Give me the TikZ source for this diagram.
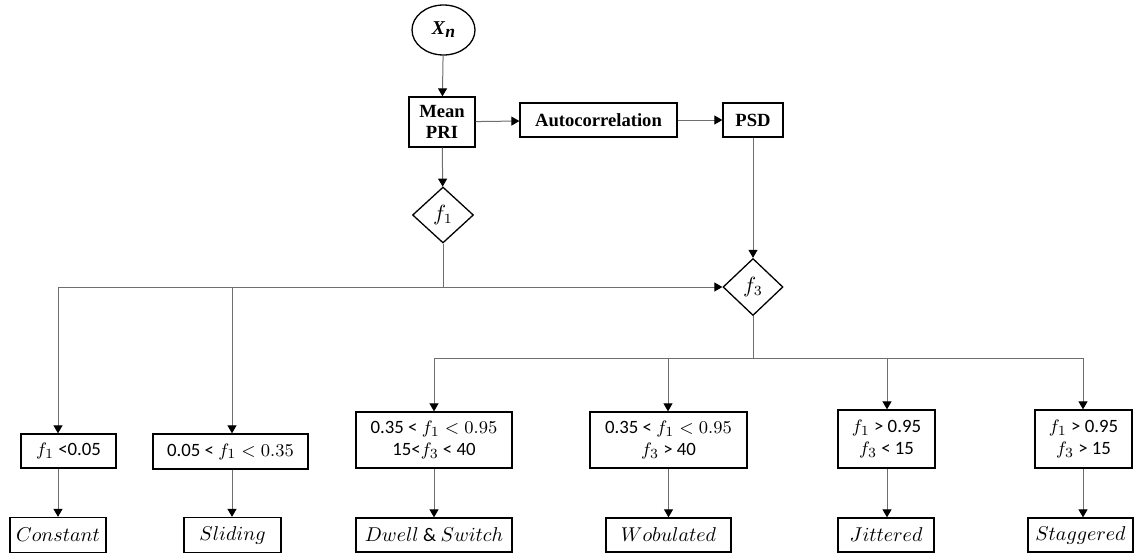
\documentclass[tikz,border=0pt]{standalone}
\usepackage{fontspec}
\setmainfont{Carlito}
\newfontfamily\tnr{Liberation Serif}
\usetikzlibrary{shapes.geometric,arrows.meta}
\definecolor{conn}{RGB}{110,110,110}
\tikzset{
  base/.style={draw=black, line width=0.65pt, inner sep=0pt, align=center,
    font=\fontsize{9.4}{11}\selectfont},
  topbox/.style={base, rectangle, font=\tnr\bfseries\fontsize{9.3}{10.5}\selectfont},
  condbox/.style={base, rectangle},
  resbox/.style={base, rectangle, font=\fontsize{9.6}{11}\selectfont},
  decision/.style={base, diamond, font=\fontsize{10.5}{12}\selectfont},
  conline/.style={draw=conn, line width=0.5pt},
  arr/.style={conline, -{Triangle[width=4.5pt,length=4pt,color=black]}}
}
\begin{document}
\begin{tikzpicture}[x=0.5pt,y=-0.5pt]
\useasboundingbox (0,0) rectangle (1146,557);
% top row
\node[base, ellipse, minimum width=31.5pt, minimum height=25pt] (xn) at (443.5,30)
  {\tnr\bfseries\itshape\fontsize{9.8}{11}\selectfont X\kern0.3pt\raisebox{-0.35ex}{\fontsize{8.8}{9}\selectfont n}};
\node[topbox, minimum width=33pt, minimum height=25pt] (mean) at (442,122) {Mean\\PRI};
\node[topbox, minimum width=78.5pt, minimum height=17pt] (auto) at (598.5,120) {Autocorrelation};
\node[topbox, minimum width=30pt, minimum height=17pt] (psd) at (753,120) {PSD};
% decisions
\node[decision, minimum width=30.5pt, minimum height=28pt] (f1) at (443,215) {$f_1$};
\node[decision, minimum width=30pt, minimum height=28.5pt] (f3) at (753,287) {$f_3$};
% condition boxes
\node[condbox, minimum width=47.5pt, minimum height=17pt] (b1) at (68.5,451) {$f_1$ <0.05};
\node[condbox, minimum width=77.5pt, minimum height=17.5pt] (b2) at (230.5,451.5) {0.05 < $f_1 < 0.35$};
\node[condbox, minimum width=78pt, minimum height=28pt] (b3) at (434,440) {0.35 < $f_1 < 0.95$\\15<$f_3$ < 40};
\node[condbox, minimum width=78.5pt, minimum height=28pt] (b4) at (668.5,440) {0.35 < $f_1 < 0.95$\\$f_3$ > 40};
\node[condbox, minimum width=48.5pt, minimum height=29pt] (b5) at (886.5,439) {$f_1$ > 0.95\\$f_3$ < 15};
\node[condbox, minimum width=48.5pt, minimum height=29pt] (b6) at (1083.5,439) {$f_1$ > 0.95\\$f_3$ > 15};
% result boxes
\node[resbox, minimum width=48pt, minimum height=17.5pt] (r1) at (58,535) {$Constant$};
\node[resbox, minimum width=48.5pt, minimum height=17.5pt] (r2) at (232.5,535) {$Sliding$};
\node[resbox, minimum width=78pt, minimum height=17pt] (r3) at (434,535) {$Dwell\ \&\ Switch$};
\node[resbox, minimum width=62.5pt, minimum height=17pt] (r4) at (668.5,535) {$Wobulated$};
\node[resbox, minimum width=48pt, minimum height=17pt] (r5) at (886,535) {$Jittered$};
\node[resbox, minimum width=52.5pt, minimum height=17pt] (r6) at (1080.5,535) {$Staggered$};
% junction coordinates
\coordinate (j1) at (443,287);
\coordinate (cL) at (58,287);
\coordinate (cM) at (232,287);
\coordinate (j3) at (753,358);
\coordinate (c3) at (434,358);
\coordinate (c4) at (668,358);
\coordinate (c5) at (887,358);
\coordinate (c6) at (1083,358);
% connectors top
\draw[arr] (xn) -- (mean);
\draw[arr] (mean) -- (auto);
\draw[arr] (auto) -- (psd);
\draw[arr] (mean) -- (f1);
\draw[arr] (psd) -- (f3);
% f1 branches
\draw[conline] (f1.south) -- (j1);
\draw[arr] (cL) -- (f3.west);
\draw[arr] (cL) -- (cL |- b1.north);
\draw[arr] (cM) -- (cM |- b2.north);
% f3 branches
\draw[conline] (f3.south) -- (j3);
\draw[conline] (c3) -- (c6);
\draw[arr] (c3) -- (c3 |- b3.north);
\draw[arr] (c4) -- (c4 |- b4.north);
\draw[arr] (c5) -- (c5 |- b5.north);
\draw[arr] (c6) -- (c6 |- b6.north);
% to results
\draw[arr] (r1.north |- b1.south) -- (r1.north);
\draw[arr] (cM |- b2.south) -- (cM |- r2.north);
\draw[arr] (b3.south) -- (r3.north);
\draw[arr] (b4.south) -- (r4.north);
\draw[arr] (c5 |- b5.south) -- (c5 |- r5.north);
\draw[arr] (c6 |- b6.south) -- (c6 |- r6.north);
\end{tikzpicture}
\end{document}
